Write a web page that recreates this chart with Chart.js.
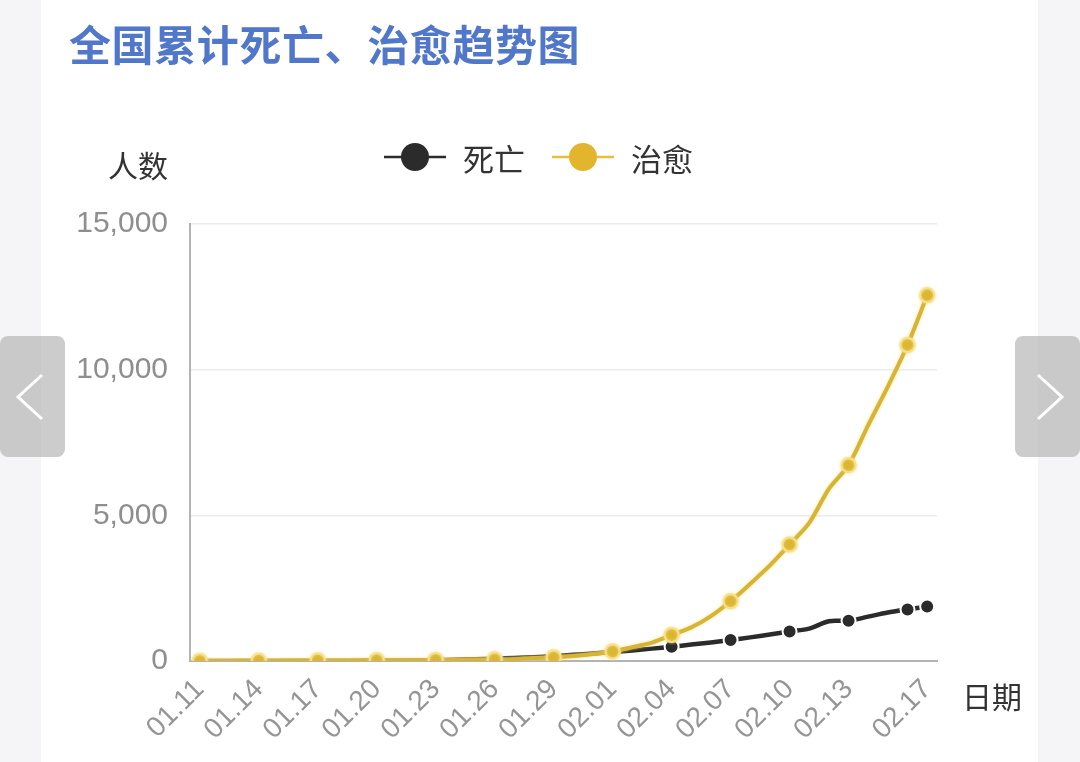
<!DOCTYPE html>
<html>
<head>
<meta charset="utf-8">
<script src="https://cdn.jsdelivr.net/npm/chart.js@4.4.1/dist/chart.umd.min.js"></script>
<style>
  html,body{margin:0;padding:0;width:1080px;height:762px;overflow:hidden;background:#f5f5f7;}
  .card{position:absolute;left:41px;top:0;width:997px;height:762px;background:#fff;}
  #chart{position:absolute;left:0;top:0;}
  .title{position:absolute;left:69px;top:12px;font:bold 42px "Noto Sans CJK SC",sans-serif;color:#5077c9;letter-spacing:0.6px;white-space:nowrap;}
  .legend{position:absolute;top:137px;left:384px;height:40px;display:flex;align-items:center;font:31px "Noto Sans CJK SC",sans-serif;color:#333;white-space:nowrap;}
  .legend svg{display:block;margin-right:17px;}
  .legend span{margin-right:27px;}
  .nav{position:absolute;top:336px;width:65px;height:121px;background:rgba(185,185,185,.72);border-radius:8px;}
  .nav svg{position:absolute;left:0;top:0;}
</style>
</head>
<body>
<div class="card"></div>
<canvas id="chart" width="1080" height="762"></canvas>
<div class="title">全国累计死亡、治愈趋势图</div>
<div class="legend">
  <svg width="62" height="32"><line x1="0" y1="16" x2="62" y2="16" stroke="#2b2b2b" stroke-width="2.5"/><circle cx="31" cy="16" r="14" fill="#2b2b2b"/></svg><span>死亡</span>
  <svg width="62" height="32"><line x1="0" y1="16" x2="62" y2="16" stroke="#e4be3c" stroke-width="2.5"/><circle cx="31" cy="16" r="14" fill="#e2b52c"/></svg><span>治愈</span>
</div>
<div class="nav" style="left:0px;"><svg width="65" height="121"><polyline points="42,39 18,61 42,83" fill="none" stroke="#fff" stroke-width="3"/></svg></div>
<div class="nav" style="left:1015px;"><svg width="65" height="121"><polyline points="23,39 47,61 23,83" fill="none" stroke="#fff" stroke-width="3"/></svg></div>
<script>
const days = ['01.11','01.12','01.13','01.14','01.15','01.16','01.17','01.18','01.19','01.20',
  '01.21','01.22','01.23','01.24','01.25','01.26','01.27','01.28','01.29','01.30','01.31',
  '02.01','02.02','02.03','02.04','02.05','02.06','02.07','02.08','02.09','02.10',
  '02.11','02.12','02.13','02.14','02.15','02.16','02.17'];
const deaths = [1,1,1,1,2,2,2,3,3,6,
  9,17,25,41,56,80,106,132,170,213,259,
  304,361,425,490,563,636,722,811,908,1016,
  1113,1367,1380,1523,1665,1770,1868];
const cured = [2,2,6,7,12,15,15,17,25,25,
  25,28,34,38,49,51,60,103,124,171,243,
  328,475,632,892,1153,1540,2050,2649,3281,3996,
  4740,5911,6723,8096,9419,10844,12552];
const tickDays = ['01.11','01.14','01.17','01.20','01.23','01.26','01.29','02.01','02.04','02.07','02.10','02.13','02.17'];
const markedDays = ['01.11','01.14','01.17','01.20','01.23','01.26','01.29','02.01','02.04','02.07','02.10','02.13','02.16','02.17'];
const yTicks = [0,5000,10000,15000];

const BLACK = '#2b2b2b';
const GOLD = '#d8b434';

function markerRadius(ctx){
  return markedDays.includes(days[ctx.dataIndex]) ? 7 : 0;
}

const axisTexts = {
  id:'axisTexts',
  afterDraw(chart){
    const {ctx, chartArea} = chart;
    ctx.save();
    ctx.fillStyle = '#333';
    ctx.font = '30px "Noto Sans CJK SC", sans-serif';
    ctx.textBaseline = 'middle';
    ctx.textAlign = 'right';
    ctx.fillText('人数', chartArea.left - 22, chartArea.top - 58);
    ctx.textAlign = 'left';
    ctx.fillText('日期', chartArea.right + 25, chartArea.bottom + 36);
    ctx.restore();
  }
};

const goldGlow = {
  id:'goldGlow',
  beforeDatasetDraw(chart, args){
    if(args.index !== 1) return;
    chart.ctx.save();
    chart.ctx.shadowColor = 'rgba(245,222,120,0.9)';
    chart.ctx.shadowBlur = 3;
  },
  afterDatasetDraw(chart, args){
    if(args.index !== 1) return;
    chart.ctx.restore();
  }
};

new Chart(document.getElementById('chart'), {
  type:'line',
  data:{
    labels: days,
    datasets:[
      {label:'死亡', data:deaths, borderColor:BLACK, backgroundColor:BLACK, borderWidth:4.5,
       pointRadius:markerRadius, pointBackgroundColor:BLACK, pointBorderColor:'#fff', pointBorderWidth:2,
       tension:.3, order:1},
      {label:'治愈', data:cured, borderColor:GOLD, backgroundColor:GOLD, borderWidth:4,
       pointRadius:markerRadius, pointBackgroundColor:'#dcb532', pointBorderColor:'#f6e08c', pointBorderWidth:2,
       tension:.3, order:0}
    ]
  },
  options:{
    responsive:false,
    animation:false,
    events:[],
    layout:{padding:{top:224, right:143, bottom:0, left:0}},
    plugins:{legend:{display:false}, tooltip:{enabled:false}},
    scales:{
      x:{
        offset:true,
        grid:{display:false},
        border:{display:true, color:'#b3b3b3', width:2},
        ticks:{
          autoSkip:false, minRotation:45, maxRotation:45, padding:4,
          color:'#959595', font:{family:'"Liberation Sans", Arial, sans-serif', size:28},
          callback:(v, i) => tickDays.includes(days[i]) ? days[i] : ''
        },
        afterFit(scale){ scale.height = 101; }
      },
      y:{
        min:0, max:15000,
        afterBuildTicks(scale){ scale.ticks = yTicks.map(v => ({value:v})); },
        grid:{color:ctx => ctx.tick && ctx.tick.value === 0 ? 'rgba(0,0,0,0)' : '#ececec', lineWidth:1.5, drawTicks:false},
        border:{display:true, color:'#b3b3b3', width:2},
        ticks:{
          padding:22, color:'#8e8e8e', font:{family:'"Liberation Sans", Arial, sans-serif', size:30},
          callback:v => v.toLocaleString('en-US')
        },
        afterFit(scale){ scale.width = 190; }
      }
    }
  },
  plugins:[axisTexts, goldGlow]
});
</script>
</body>
</html>
